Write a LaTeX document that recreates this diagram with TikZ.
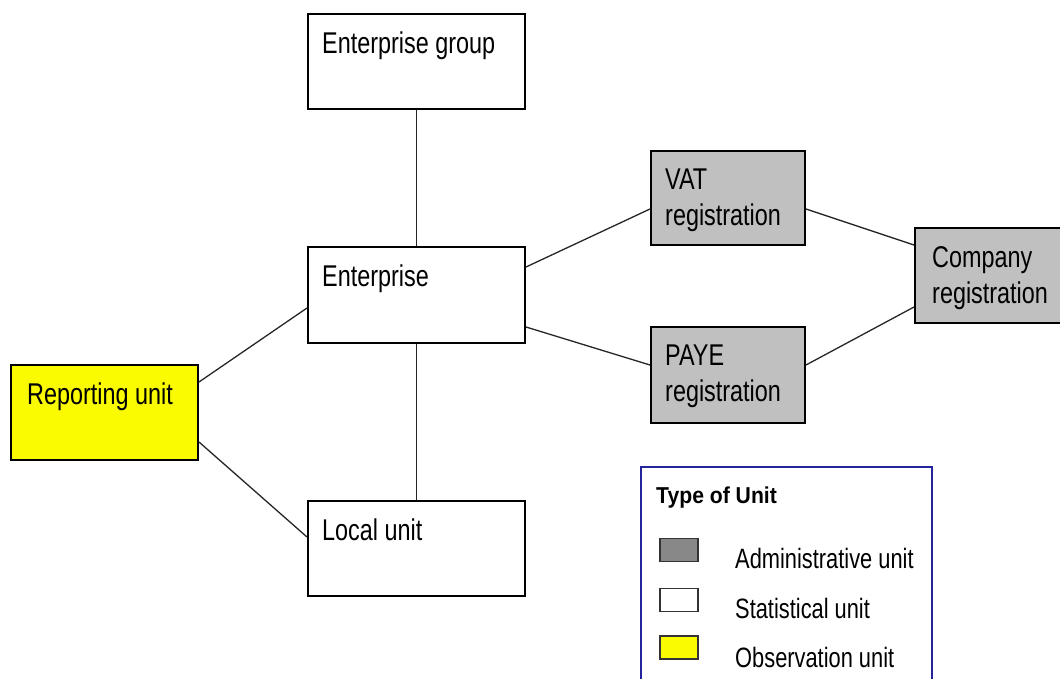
\documentclass[tikz,border=0pt]{standalone}
\usepackage{fontspec}
\setmainfont[FakeStretch=0.78]{Liberation Sans}
\newfontfamily\legtitlefont[FakeStretch=0.92]{Liberation Sans}

\definecolor{admingray}{RGB}{192,192,192}
\definecolor{swatchgray}{RGB}{136,136,136}
\definecolor{obsyellow}{RGB}{250,250,0}
\definecolor{legblue}{RGB}{35,35,155}

\tikzset {
    unit/.style={rectangle, draw=black, line width=2pt, fill=white, inner sep=0pt},
    admin/.style={unit, fill=admingray},
    obs/.style={unit, fill=obsyellow},
    txt/.style={anchor=north west, inner sep=0pt, xshift=15pt, yshift=-19pt, align=left, font=\fontsize{30}{36}\selectfont},
    link/.style={line width=1.3pt, black!85},
    swatch/.style={rectangle, draw=black!80, line width=1.5pt, minimum width=38pt, minimum height=23pt, inner sep=0pt},
    legtxt/.style={anchor=base west, inner sep=0pt, font=\fontsize{28}{30}\selectfont},
}

\begin{document}
\begin{tikzpicture}[x=1pt, y=-1pt]
    \useasboundingbox [fill=white] (0, 0) rectangle (1060, 679);
    % statistical units
    \node (eg) at (416.5, 61.5) [unit, minimum width=217pt, minimum height=95pt,
        label={[txt]north west:Enterprise group}] {};
    \node (ent) at (416.5, 295) [unit, minimum width=217pt, minimum height=96pt,
        label={[txt]north west:Enterprise}] {};
    \node (lu) at (416.5, 548.5) [unit, minimum width=217pt, minimum height=95pt,
        label={[txt]north west:Local unit}] {};
    \node (ru) at (104.5, 412.5) [obs, minimum width=187pt, minimum height=95pt,
        label={[txt, xshift=2pt]north west:Reporting unit}] {};
    % administrative units
    \node (vat) at (728, 198) [admin, minimum width=154pt, minimum height=94pt,
        label={[txt]north west:VAT\\registration}] {};
    \node (paye) at (728, 375) [admin, minimum width=154pt, minimum height=96pt,
        label={[txt]north west:PAYE\\registration}] {};
    \node (comp) at (990.5, 275.5) [admin, minimum width=151pt, minimum height=95pt,
        label={[txt, xshift=3pt]north west:Company\\registration}] {};
    % links
    \draw [link] (eg.south) -- (ent.north);
    \draw [link] (ent.south) -- (lu.north);
    \draw [link] ([yshift=30.5pt]ru.east) -- ([yshift=-13pt]ent.west);
    \draw [link] ([yshift=-29.5pt]ru.east) -- ([yshift=11.5pt]lu.west);
    \draw [link] ([yshift=28pt]ent.east) -- ([yshift=-11pt]vat.west);
    \draw [link] ([yshift=-32pt]ent.east) -- ([yshift=10pt]paye.west);
    \draw [link] ([yshift=-11pt]vat.east) -- ([yshift=30.5pt]comp.west);
    \draw [link] ([yshift=10pt]paye.east) -- ([yshift=-31.5pt]comp.west);
    % legend
    \node (leg) at (786.5, 580) [rectangle, draw=legblue, line width=1.8pt,
        minimum width=291pt, minimum height=226pt] {};
    \node (legtitle) at (656, 503) [anchor=base west, inner sep=0pt,
        font=\legtitlefont\bfseries\fontsize{23}{25}\selectfont] {Type of Unit};
    \node (swadmin) at (679, 550) [swatch, fill=swatchgray] {};
    \node (swstat) at (679, 600) [swatch, fill=white] {};
    \node (swobs) at (679, 647.5) [swatch, fill=obsyellow] {};
    \node (ladmin) at (735, 568) [legtxt] {Administrative unit};
    \node (lstat) at (735, 618) [legtxt] {Statistical unit};
    \node (lobs) at (735, 667) [legtxt] {Observation unit};
\end{tikzpicture}
\end{document}
